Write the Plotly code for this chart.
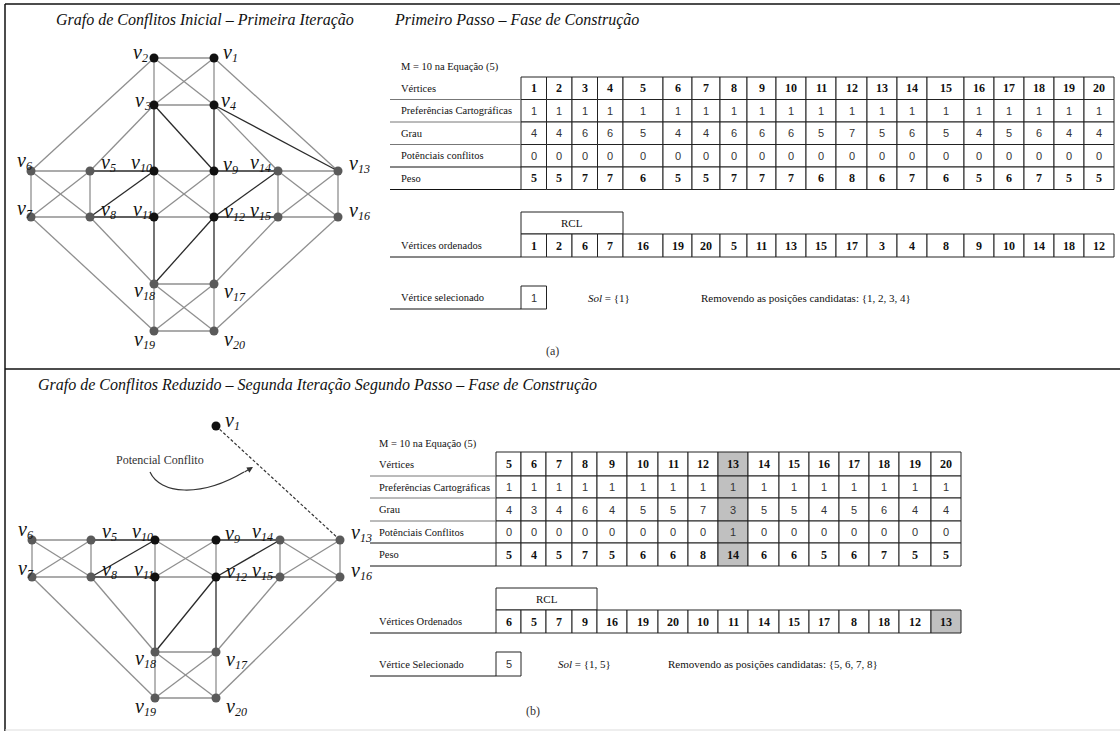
import plotly.graph_objects as go

# ---------------- data ----------------
vertices_a = [1, 2, 3, 4, 5, 6, 7, 8, 9, 10, 11, 12, 13, 14, 15, 16, 17, 18, 19, 20]
pref_a = [1, 1, 1, 1, 1, 1, 1, 1, 1, 1, 1, 1, 1, 1, 1, 1, 1, 1, 1, 1]
grau_a = [4, 4, 6, 6, 5, 4, 4, 6, 6, 6, 5, 7, 5, 6, 5, 4, 5, 6, 4, 4]
pot_a = [0, 0, 0, 0, 0, 0, 0, 0, 0, 0, 0, 0, 0, 0, 0, 0, 0, 0, 0, 0]
peso_a = [5, 5, 7, 7, 6, 5, 5, 7, 7, 7, 6, 8, 6, 7, 6, 5, 6, 7, 5, 5]
ordered_a = [1, 2, 6, 7, 16, 19, 20, 5, 11, 13, 15, 17, 3, 4, 8, 9, 10, 14, 18, 12]
selected_a = 1
sol_a = "{1}"
removed_a = "{1, 2, 3, 4}"

vertices_b = [5, 6, 7, 8, 9, 10, 11, 12, 13, 14, 15, 16, 17, 18, 19, 20]
pref_b = [1, 1, 1, 1, 1, 1, 1, 1, 1, 1, 1, 1, 1, 1, 1, 1]
grau_b = [4, 3, 4, 6, 4, 5, 5, 7, 3, 5, 5, 4, 5, 6, 4, 4]
pot_b = [0, 0, 0, 0, 0, 0, 0, 0, 1, 0, 0, 0, 0, 0, 0, 0]
peso_b = [5, 4, 5, 7, 5, 6, 6, 8, 14, 6, 6, 5, 6, 7, 5, 5]
ordered_b = [6, 5, 7, 9, 16, 19, 20, 10, 11, 14, 15, 17, 8, 18, 12, 13]
selected_b = 5
sol_b = "{1, 5}"
removed_b = "{5, 6, 7, 8}"
highlight_b = 13

row_labels_a = ["Vértices", "Preferências Cartográficas", "Grau", "Potênciais conflitos", "Peso"]
row_labels_b = ["Vértices", "Preferências Cartográficas", "Grau", "Potênciais Conflitos", "Peso"]

# graph: vertex ids, grid column / row, conflict edges
node_ids = [1, 2, 3, 4, 5, 6, 7, 8, 9, 10, 11, 12, 13, 14, 15, 16, 17, 18, 19, 20]
node_col = [3, 2, 2, 3, 1, 0, 0, 1, 3, 2, 2, 3, 5, 4, 4, 5, 3, 2, 2, 3]
node_row = [0, 0, 1, 1, 2, 2, 3, 3, 2, 2, 3, 3, 2, 2, 3, 3, 4, 4, 5, 5]
core_nodes = [1, 2, 3, 4, 9, 10, 11, 12]
edges_light = [(2, 1), (2, 3), (2, 4), (2, 6), (1, 3), (1, 4), (1, 13), (3, 4), (3, 5),
               (6, 5), (6, 7), (6, 8), (7, 5), (7, 8), (7, 19), (5, 8), (10, 9), (10, 11),
               (10, 12), (9, 11), (9, 12), (11, 12), (8, 18), (18, 17), (18, 20), (18, 19),
               (19, 17), (19, 20), (17, 20), (20, 16), (17, 15), (14, 13), (14, 15), (14, 16),
               (13, 15), (13, 16), (15, 16), (4, 14)]
edges_dark = [(3, 10), (3, 9), (4, 9), (4, 13), (5, 10), (8, 10), (8, 11), (9, 14),
              (12, 14), (12, 15), (11, 18), (12, 17), (12, 18)]
removed_nodes_b = [1, 2, 3, 4]
conflict_edge_b = (1, 13)

# ---------------- layout constants ----------------
W, H = 1120, 731
SERIF = "Liberation Serif"
SANS = "Liberation Sans"

gx_a = [31, 90, 154, 214, 278, 338]
gy_a = [58, 105, 171, 217, 284, 331]
gx_b = [32, 91, 155, 216, 280, 340]
gy_b = [426, None, 540, 577, 652, 698]

# (dx of the v / subscript boundary, dy of the v glyph centre) relative to the node
label_off = {1: (18, -4), 2: (-12, -4), 3: (-10, -3), 4: (16, -3), 5: (20, -7), 6: (-5, -9),
             7: (-5, -7), 8: (20, -6), 9: (18, -5), 10: (-14, -7), 11: (-12, -6), 12: (19, -4),
             13: (20, -6), 14: (-19, -7), 15: (-19, -5), 16: (20, -5), 17: (19, 9),
             18: (-11, 8), 19: (-11, 10), 20: (19, 10)}

fig = go.Figure()
shapes = []
annos = []


def text(x, y, s, size=11, family=SERIF, color="#111", xanchor="center"):
    annos.append(dict(x=x, y=y, text=s, showarrow=False, xref="x", yref="y",
                      xanchor=xanchor, yanchor="middle", borderpad=0,
                      font=dict(size=size, family=family, color=color)))


def line(x0, y0, x1, y1, color="#111", width=1, dash=None):
    d = dict(type="line", x0=x0, y0=y0, x1=x1, y1=y1, xref="x", yref="y",
             line=dict(color=color, width=width))
    if dash:
        d["line"]["dash"] = dash
    shapes.append(d)


def rect(x0, y0, x1, y1, fill="white", color="#222", width=1):
    shapes.append(dict(type="rect", x0=x0, y0=y0, x1=x1, y1=y1, xref="x", yref="y",
                       fillcolor=fill, line=dict(color=color, width=width), layer="below"))


# ---------------- frame ----------------
line(5, 4, W, 4, width=1.5)
line(5, 4, 5, H, width=1.5)
line(5, 369, W, 369, width=1.5)
line(5, 730, W, 730, color="#ddd", width=1)

# ---------------- titles ----------------
text(55, 20, "<i>Grafo de Conflitos Inicial – Primeira Iteração</i>", size=16, xanchor="left")
text(393, 20, "<i>Primeiro Passo – Fase de Construção</i>", size=16, xanchor="left")
text(37, 385, "<i>Grafo de Conflitos Reduzido – Segunda Iteração Segundo Passo – Fase de Construção</i>",
     size=16, xanchor="left")


# ---------------- graphs ----------------
def draw_graph(gx, gy, skip, conflict=None):
    pos = {}
    for nid, c, r in zip(node_ids, node_col, node_row):
        if nid in skip and not (conflict and nid == conflict[0]):
            continue
        pos[nid] = (gx[c], gy[r])
    for edges, color in ((edges_light, "#8f8f8f"), (edges_dark, "#2a2a2a")):
        xs, ys = [], []
        for a, b in edges:
            if a in skip or b in skip:
                continue
            xs += [pos[a][0], pos[b][0], None]
            ys += [pos[a][1], pos[b][1], None]
        fig.add_trace(go.Scatter(x=xs, y=ys, mode="lines", hoverinfo="skip",
                                 line=dict(color=color, width=1.3), showlegend=False))
    if conflict:
        a, b = conflict
        fig.add_trace(go.Scatter(x=[pos[a][0], pos[b][0]], y=[pos[a][1], pos[b][1]],
                                 mode="lines", hoverinfo="skip", showlegend=False,
                                 line=dict(color="#333", width=1.2, dash="3px,2px")))
    ids = list(pos.keys())
    fig.add_trace(go.Scatter(
        x=[pos[i][0] for i in ids], y=[pos[i][1] for i in ids], mode="markers",
        hoverinfo="skip", showlegend=False,
        marker=dict(size=9, color=["#111" if i in core_nodes else "#5a5a5a" for i in ids],
                    line=dict(width=0))))
    for i in ids:
        dx, dy = label_off[i]
        bx, cy = pos[i][0] + dx, pos[i][1] + dy
        text(bx + 1, cy - 2, "<i>v</i>", size=20, color="#111", xanchor="right")
        text(bx - 1, cy + 3.5, "<i>%d</i>" % i, size=12, color="#111", xanchor="left")


draw_graph(gx_a, gy_a, skip=[])
draw_graph(gx_b, gy_b, skip=removed_nodes_b, conflict=conflict_edge_b)

# potential conflict annotation
text(160, 460, "Potencial Conflito", size=12, family=SERIF, color="#333")
shapes.append(dict(type="path", path="M 150 472 C 160 494, 200 498, 244 472",
                   xref="x", yref="y", line=dict(color="#333", width=1.2)))
annos.append(dict(x=253, y=467, ax=243, ay=473, axref="x", ayref="y", xref="x", yref="y",
                  showarrow=True, arrowhead=2, arrowsize=1, arrowwidth=1.2, arrowcolor="#333",
                  text=""))


# ---------------- tables ----------------
def draw_table(lx0, ltx, cols, rows, labels, data, mtext_y, rcl_y, ord_y, ordered,
               ord_label, sel_y, sel_label, selected, sol_x, sol, rem_x, removed,
               highlight=None, hl_idx=None):
    text(ltx, mtext_y, "M = 10 na Equação (5)", size=10.5, xanchor="left")
    ncell = len(cols) - 1
    for r in range(5):
        y0, y1 = rows[r], rows[r + 1]
        text(ltx, (y0 + y1) / 2, labels[r], size=10.5, xanchor="left")
        line(lx0, y1, cols[0], y1, color="#111" if r >= 3 else "#777", width=1)
        for c in range(ncell):
            fill = "#c0c0c0" if (hl_idx is not None and c == hl_idx) else "white"
            rect(cols[c], y0, cols[c + 1], y1, fill=fill)
            v = data[r][c]
            if r in (0, 4):
                text((cols[c] + cols[c + 1]) / 2, (y0 + y1) / 2, "<b>%d</b>" % v, size=12)
            else:
                text((cols[c] + cols[c + 1]) / 2, (y0 + y1) / 2, "%d" % v, size=11,
                     family=SANS, color="#333")
    # RCL + ordered
    rect(cols[0], rcl_y, cols[4], ord_y[0])
    text((cols[0] + cols[4]) / 2, (rcl_y + ord_y[0]) / 2, "RCL", size=11)
    text(ltx, (ord_y[0] + ord_y[1]) / 2, ord_label, size=10.5, xanchor="left")
    line(lx0, ord_y[1], cols[0], ord_y[1], width=1)
    for c in range(ncell):
        fill = "#c0c0c0" if (highlight is not None and ordered[c] == highlight) else "white"
        rect(cols[c], ord_y[0], cols[c + 1], ord_y[1], fill=fill)
        text((cols[c] + cols[c + 1]) / 2, (ord_y[0] + ord_y[1]) / 2, "<b>%d</b>" % ordered[c],
             size=12)
    # selected
    text(ltx, (sel_y[0] + sel_y[1]) / 2, sel_label, size=10.5, xanchor="left")
    line(lx0, sel_y[1], cols[0], sel_y[1], width=1)
    rect(cols[0], sel_y[0], cols[1], sel_y[1])
    text((cols[0] + cols[1]) / 2, (sel_y[0] + sel_y[1]) / 2, "%d" % selected, size=11,
         family=SANS, color="#333")
    text(sol_x, (sel_y[0] + sel_y[1]) / 2, "<i>Sol</i> = " + sol, size=11, xanchor="left")
    text(rem_x, (sel_y[0] + sel_y[1]) / 2, "Removendo as posições candidatas: " + removed,
         size=11, xanchor="left")


cols_a = [521, 546.5, 572, 597.5, 623, 663, 692, 720, 747, 776, 806, 836, 867, 897, 927,
          964, 994, 1024, 1054, 1084, 1114]
rows_a = [77, 99.5, 122, 144.5, 167, 189.5]
draw_table(390, 400, cols_a, rows_a, row_labels_a,
           [vertices_a, pref_a, grau_a, pot_a, peso_a], 67, 212, (234, 257), ordered_a,
           "Vértices ordenados", (286, 309), "Vértice selecionado", selected_a,
           587, sol_a, 700, removed_a)
text(552, 351, "(a)", size=12, family=SERIF, color="#333")

cols_b = [496, 521, 546, 572, 597, 627, 658, 688, 718, 748, 779, 809, 839, 869, 899, 931, 961]
rows_b = [452, 476, 498, 521, 543, 566]
draw_table(370, 378, cols_b, rows_b, row_labels_b,
           [vertices_b, pref_b, grau_b, pot_b, peso_b], 444, 588, (610, 633), ordered_b,
           "Vértices Ordenados", (652, 676), "Vértice Selecionado", selected_b,
           557, sol_b, 667, removed_b, highlight=highlight_b,
           hl_idx=vertices_b.index(highlight_b))
text(533, 711, "(b)", size=12, family=SERIF, color="#333")

fig.update_layout(
    width=W, height=H, margin=dict(l=0, r=0, t=0, b=0),
    paper_bgcolor="white", plot_bgcolor="white",
    xaxis=dict(range=[0, W], visible=False, fixedrange=True),
    yaxis=dict(range=[H, 0], visible=False, fixedrange=True),
    shapes=shapes, annotations=annos, showlegend=False,
)
fig.write_html("out.html", config={"displayModeBar": False},
               post_script="document.body.style.margin='0px';document.body.style.overflow='hidden';")
